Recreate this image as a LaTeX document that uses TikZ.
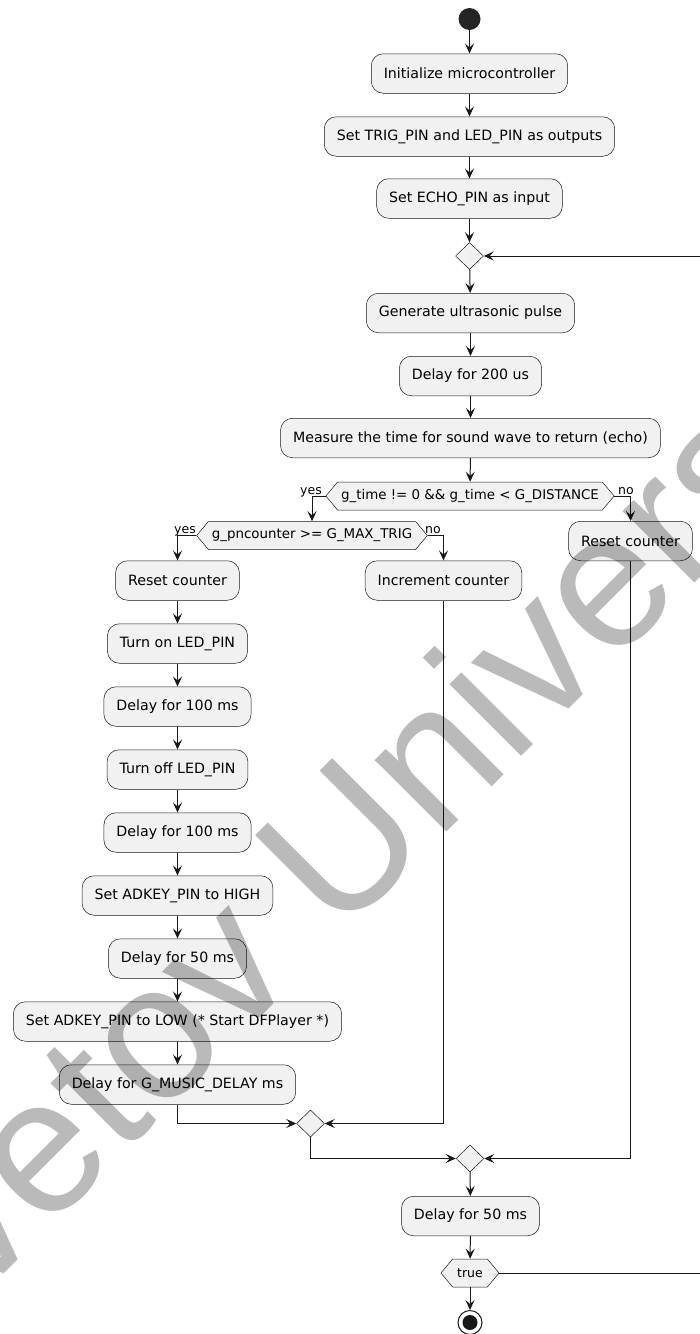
\documentclass[tikz,border=0pt]{standalone}
\usepackage{fontspec}
\setmainfont{DejaVu Sans}
\newfontfamily\wmfont{Liberation Sans}
\usetikzlibrary{arrows.meta,shapes.geometric,shapes.symbols}

\definecolor{plfill}{HTML}{F1F1F1}
\definecolor{plline}{HTML}{181818}

\begin{document}
\begin{tikzpicture}[x=1pt,y=-1pt,
        act/.style = {draw=plline, line width=0.5pt, fill=plfill, rounded corners=12pt,
            minimum height=39.5pt, inner xsep=12.5pt, font=\fontsize{14.2}{17}\selectfont},
        dec/.style = {draw=plline, line width=0.5pt, fill=plfill, signal, signal to=east and west,
            signal pointer angle=100, minimum height=28pt, inner xsep=3.5pt, inner ysep=2pt,
            font=\fontsize{13.4}{16}\selectfont},
        merge/.style = {draw=plline, line width=0.5pt, fill=plfill, diamond, inner sep=0pt,
            minimum width=28pt, minimum height=27pt},
        startpt/.style = {circle, fill=plline!95, minimum size=22pt, inner sep=0pt},
        endpt/.style = {circle, draw=plline, line width=1pt, minimum size=24pt, inner sep=0pt,
            path picture={\fill[plline] (path picture bounding box.center) circle (7.5pt);}},
        lbl/.style = {inner sep=0pt, font=\fontsize{12.5}{14}\selectfont},
        wmark/.style = {inner sep=0pt, text=black, text opacity=0.27,
            font=\wmfont\fontsize{192}{192}\selectfont},
        flow/.style = {draw=plline, line width=1pt, -{Stealth[length=10pt,width=9pt,inset=4pt]}},
        node distance=63pt]
        \useasboundingbox (0,0) rectangle (700,1334);
        \clip (0,0) rectangle (700,1334);

        \node[startpt] (0) at (469.5,19) {};
        \node[act] (1) at (469.5,73.5) {Initialize microcontroller};
        \node[act] (2) [below of=1] {Set TRIG\_PIN and LED\_PIN as outputs};
        \node[act] (3) [below of=2, node distance=62pt] {Set ECHO\_PIN as input};
        \node[merge] (4) at (469.5,256) {};
        \node[act] (5) at (470.5,313) {Generate ultrasonic pulse};
        \node[act] (6) [below of=5] {Delay for 200 us};
        \node[act] (7) [below of=6, node distance=62pt] {Measure the time for sound wave to return (echo)};
        \node[dec] (8) at (470,496) {g\_time != 0 \&\& g\_time < G\_DISTANCE};

        \node[dec] (9) at (312,535.5) {g\_pncounter >= G\_MAX\_TRIG};
        \node[act] (10) at (177.5,580.5) {Reset counter};
        \node[act] (11) at (443.5,580.5) {Increment counter};
        \node[act] (12) at (630.5,541) {Reset counter};

        \node[act] (13) [below of=10] {Turn on LED\_PIN};
        \node[act] (14) [below of=13] {Delay for 100 ms};
        \node[act] (15) [below of=14] {Turn off LED\_PIN};
        \node[act] (16) [below of=15] {Delay for 100 ms};
        \node[act] (17) [below of=16] {Set ADKEY\_PIN to HIGH};
        \node[act] (18) [below of=17] {Delay for 50 ms};
        \node[act] (19) [below of=18] {Set ADKEY\_PIN to LOW (* Start DFPlayer *)};
        \node[act] (20) [below of=19] {Delay for G\_MUSIC\_DELAY ms};

        \node[merge] (21) at (310.5,1123.5) {};
        \node[merge] (22) at (470,1158.5) {};
        \node[act] (23) at (470.5,1216) {Delay for 50 ms};
        \node[dec, font=\fontsize{12.5}{15}\selectfont, inner xsep=4.5pt] (24) at (470,1273) {true};
        \node[endpt] (25) at (470,1322.5) {};
        \coordinate (26) at (706,256);

        \node[lbl, anchor=base east] (27) at (322,494) {yes};
        \node[lbl, anchor=base west] (28) at (618,494) {no};
        \node[lbl, anchor=base east] (29) at (196,533) {yes};
        \node[lbl, anchor=base west] (30) at (425,533) {no};

        \draw[flow] (0) -- (1);
        \draw[flow] (1) -- (2);
        \draw[flow] (2) -- (3);
        \draw[flow] (3) -- (4);
        \draw[flow] (4) -- (5);
        \draw[flow] (5) -- (6);
        \draw[flow] (6) -- (7);
        \draw[flow] (7) -- (8);

        \draw[flow] (8) -| (9);
        \draw[flow] (8) -| (12);
        \draw[flow] (9) -| (10);
        \draw[flow] (9) -| (11);

        \draw[flow] (10) -- (13);
        \draw[flow] (13) -- (14);
        \draw[flow] (14) -- (15);
        \draw[flow] (15) -- (16);
        \draw[flow] (16) -- (17);
        \draw[flow] (17) -- (18);
        \draw[flow] (18) -- (19);
        \draw[flow] (19) -- (20);

        \draw[flow] (20) |- (21);
        \draw[flow] (11) |- (21);
        \draw[flow] (21) |- (22);
        \draw[flow] (12) |- (22);

        \draw[flow] (22) -- (23);
        \draw[flow] (23) -- (24);
        \draw[flow] (24) -- (25);
        \draw[flow] (24) -| (26) -- (4);

        % watermark
        \node[wmark, rotate=45, anchor=base west] (31) at (-159,1437) {Tsvetov University};
\end{tikzpicture}
\end{document}
